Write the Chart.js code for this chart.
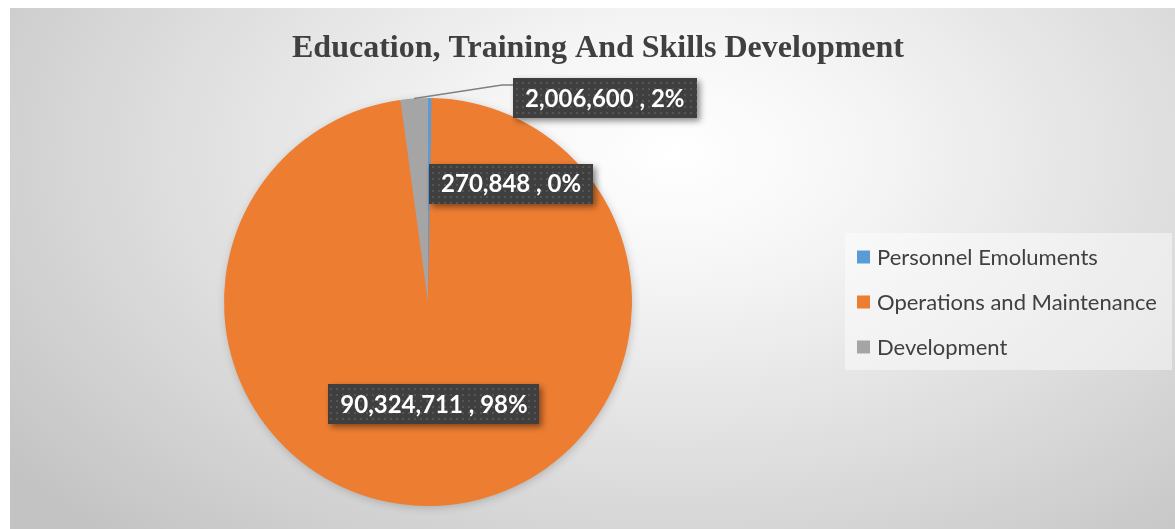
<!DOCTYPE html>
<html>
<head>
<meta charset="utf-8">
<script src="https://cdn.jsdelivr.net/npm/chart.js@4.4.0/dist/chart.umd.min.js"></script>
<style>
  html, body { margin: 0; padding: 0; background: #ffffff; }
  #frame {
    position: absolute; left: 10px; top: 8px; width: 1165px; height: 521px;
    background: radial-gradient(ellipse 72% 100% at 57% 28%, #ffffff 0%, #f6f6f6 22%, #dedede 60%, #c3c3c3 100%);
  }
  canvas { display: block; }
</style>
</head>
<body>
<div id="frame"><canvas id="budget" width="1165" height="521"></canvas></div>
<script>
// Budget lines and their allocations
const categories = ['Personnel Emoluments', 'Operations and Maintenance', 'Development'];
const amounts = [270848, 90324711, 2006600];
const sliceColors = ['#5B9BD5', '#ED7D31', '#A5A5A5'];
const chartTitle = 'Education, Training And Skills Development';

const fmt = v => v.toLocaleString('en-US');

// Dark dotted fill used behind the value labels
function dotPattern(ctx) {
  const tile = document.createElement('canvas');
  tile.width = 6; tile.height = 6;
  const g = tile.getContext('2d');
  g.fillStyle = '#3f3f3f'; g.fillRect(0, 0, 6, 6);
  g.fillStyle = '#555555'; g.fillRect(2, 2, 2, 2);
  return ctx.createPattern(tile, 'repeat');
}

// Soft shadow under the pie
const pieShadow = {
  id: 'pieShadow',
  beforeDatasetsDraw(chart) {
    const arc = chart.getDatasetMeta(0).data[0];
    if (!arc) return;
    const p = arc.getProps(['x', 'y', 'outerRadius'], true);
    const ctx = chart.ctx;
    ctx.save();
    ctx.shadowColor = 'rgba(0,0,0,0.22)';
    ctx.shadowBlur = 10;
    ctx.shadowOffsetX = 1;
    ctx.shadowOffsetY = 2;
    ctx.fillStyle = '#ED7D31';
    ctx.beginPath();
    ctx.arc(p.x, p.y, p.outerRadius - 1, 0, Math.PI * 2);
    ctx.fill();
    ctx.restore();
  }
};

// "value , percent" boxes for each slice
const valueBoxes = {
  id: 'valueBoxes',
  afterDatasetsDraw(chart, args, opts) {
    const ctx = chart.ctx;
    const meta = chart.getDatasetMeta(0);
    const data = chart.data.datasets[0].data;
    const total = data.reduce((a, b) => a + b, 0);
    const fill = dotPattern(ctx);
    ctx.save();
    ctx.font = opts.font;
    meta.data.forEach((arc, i) => {
      const p = arc.getProps(['x', 'y', 'startAngle', 'endAngle', 'outerRadius'], true);
      const mid = (p.startAngle + p.endAngle) / 2;
      const text = fmt(data[i]) + ' , ' + Math.round(data[i] / total * 100) + '%';
      const w = ctx.measureText(text).width + opts.padX * 2;
      const h = opts.boxH;
      const place = opts.placement[i];
      let bx, by;
      if (place.mode === 'center') {
        const c = arc.tooltipPosition(true);
        bx = c.x - w / 2; by = c.y - h / 2;
      } else if (place.mode === 'beside') {
        const r = p.outerRadius * place.radius;
        bx = p.x + Math.cos(mid) * r;
        by = p.y + Math.sin(mid) * r - h / 2;
      } else {
        bx = p.x + place.dx;
        by = p.y - p.outerRadius - h / 2 + place.dy;
        const sx = p.x + Math.cos(mid) * p.outerRadius;
        const sy = p.y + Math.sin(mid) * p.outerRadius;
        const ay = by + place.attachY;
        ctx.save();
        ctx.strokeStyle = '#808080';
        ctx.lineWidth = 1.5;
        ctx.beginPath();
        ctx.moveTo(sx, sy);
        ctx.lineTo(bx - place.elbow, ay);
        ctx.lineTo(bx, ay);
        ctx.stroke();
        ctx.restore();
      }
      ctx.save();
      ctx.shadowColor = 'rgba(0,0,0,0.45)';
      ctx.shadowBlur = 6;
      ctx.shadowOffsetX = 3;
      ctx.shadowOffsetY = 3;
      ctx.fillStyle = fill;
      ctx.fillRect(Math.round(bx), Math.round(by), Math.round(w), h);
      ctx.restore();
      ctx.fillStyle = '#ffffff';
      ctx.textAlign = 'center';
      ctx.textBaseline = 'middle';
      ctx.fillText(text, bx + w / 2, by + h / 2 + 1);
    });
    ctx.restore();
  }
};

// Legend panel: a layout box on the right, so the title still spans the full width
const legendPanel = {
  width: 340,
  inset: 10,
  rowGap: 45,
  font: '22px Lato, "Open Sans", sans-serif'
};
const sideLegend = {
  id: 'sideLegend',
  beforeInit(chart) {
    const box = {
      position: 'right',
      fullSize: false,
      weight: 0,
      options: {},
      left: 0, top: 0, right: 0, bottom: 0, width: 0, height: 0,
      isHorizontal() { return false; },
      update(maxWidth, maxHeight) {
        this.width = legendPanel.width;
        this.height = maxHeight;
      },
      draw() {
        const ctx = chart.ctx;
        const n = chart.data.labels.length;
        const x0 = this.left + legendPanel.inset;
        const midY = (this.top + this.bottom) / 2;
        const firstRow = midY - (n - 1) / 2 * legendPanel.rowGap;
        ctx.save();
        ctx.fillStyle = 'rgba(255,255,255,0.45)';
        ctx.fillRect(x0, midY - 69, 327, 137);
        ctx.font = legendPanel.font;
        ctx.textBaseline = 'middle';
        ctx.textAlign = 'left';
        chart.data.labels.forEach((label, i) => {
          const cy = firstRow + i * legendPanel.rowGap;
          ctx.fillStyle = chart.data.datasets[0].backgroundColor[i];
          ctx.fillRect(x0 + 12, cy - 6.5, 13, 13);
          ctx.fillStyle = '#404040';
          ctx.fillText(label, x0 + 32, cy + 1);
        });
        ctx.restore();
      }
    };
    Chart.layouts.addBox(chart, box);
  }
};

new Chart(document.getElementById('budget'), {
  type: 'pie',
  data: {
    labels: categories,
    datasets: [{
      data: amounts,
      backgroundColor: sliceColors,
      borderWidth: 0
    }]
  },
  plugins: [sideLegend, pieShadow, valueBoxes],
  options: {
    responsive: false,
    animation: false,
    devicePixelRatio: 1,
    layout: { padding: { left: 11, right: 0, top: 0, bottom: 23 } },
    plugins: {
      legend: { display: false },
      tooltip: { enabled: false },
      title: {
        display: true,
        text: chartTitle,
        color: '#404040',
        font: { family: '"Liberation Serif", "Times New Roman", serif', size: 32, weight: 'bold', lineHeight: 1.2 },
        padding: { top: 21.8, bottom: 29.8 }
      },
      valueBoxes: {
        font: 'bold 24px Lato, "Open Sans", sans-serif',
        padX: 12,
        boxH: 40,
        placement: [
          { mode: 'beside', radius: 0.58 },
          { mode: 'center' },
          { mode: 'callout', dx: 85, dy: 0, elbow: 11, attachY: 7 }
        ]
      }
    }
  }
});
</script>
</body>
</html>
